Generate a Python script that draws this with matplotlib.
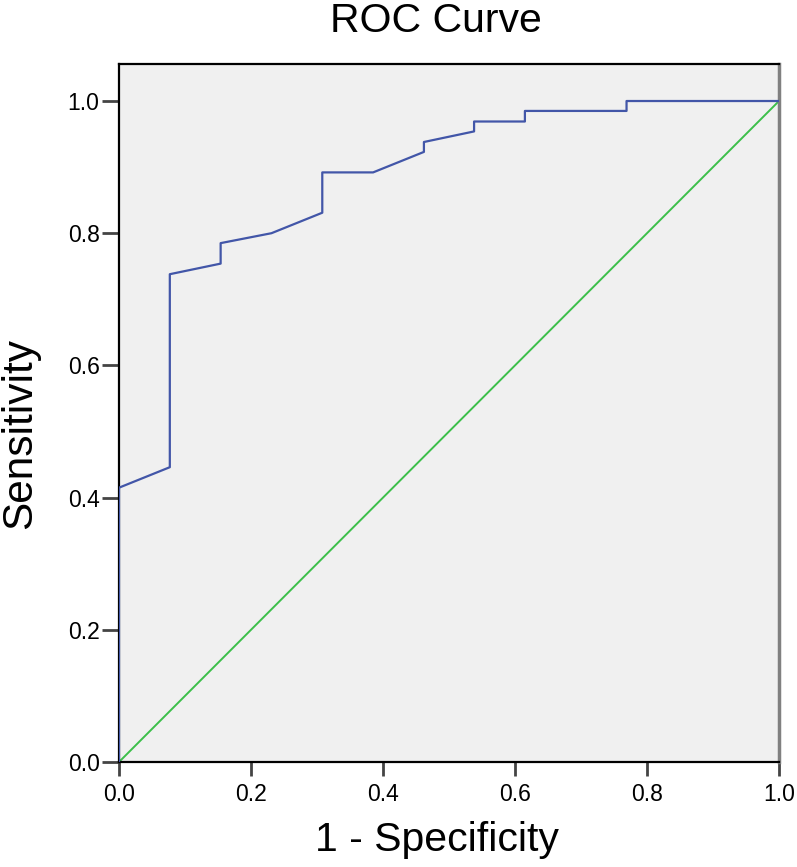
import matplotlib
matplotlib.use("Agg")
import matplotlib.pyplot as plt

# ROC curve values
fpr = [0.0, 0.0, 0.077, 0.077, 0.154, 0.154, 0.231, 0.308, 0.308, 0.385,
       0.462, 0.462, 0.538, 0.538, 0.615, 0.615, 0.769, 0.769, 1.0]
tpr = [0.0, 0.415, 0.446, 0.738, 0.754, 0.785, 0.800, 0.831, 0.892, 0.892,
       0.923, 0.938, 0.954, 0.969, 0.969, 0.985, 0.985, 1.0, 1.0]

# reference (chance) line
ref_x = [0.0, 1.0]
ref_y = [0.0, 1.0]

ticks = [0.0, 0.2, 0.4, 0.6, 0.8, 1.0]
tick_labels = ["0.0", "0.2", "0.4", "0.6", "0.8", "1.0"]

plt.rcParams['font.family'] = ['Liberation Sans', 'DejaVu Sans']

fig = plt.figure(figsize=(7.97, 8.67), dpi=100)
ax = fig.add_axes([119 / 797, 1 - 762 / 867, 660 / 797, 698 / 867])
ax.set_facecolor('#F0F0F0')

ax.plot(ref_x, ref_y, color='#3CBF4A', linewidth=1.4, zorder=2)
ax.plot(fpr, tpr, color='#4256A8', linewidth=1.6, zorder=3)

ax.set_xlim(0, 1.0)
ax.set_ylim(0, 1.056)
ax.set_xticks(ticks)
ax.set_xticklabels(tick_labels)
ax.set_yticks(ticks)
ax.set_yticklabels(tick_labels)

ax.tick_params(axis='x', direction='out', length=10, width=2, colors='#444444',
               labelcolor='black', labelsize=16.5, pad=5)
ax.tick_params(axis='y', direction='out', length=12, width=2, colors='#444444',
               labelcolor='black', labelsize=16.5, pad=2)

for side in ['left', 'bottom', 'top']:
    ax.spines[side].set_color('black')
    ax.spines[side].set_linewidth(1.6)
ax.spines['right'].set_color('#808080')
ax.spines['right'].set_linewidth(2.5)

ax.set_title('ROC Curve', fontsize=29.5, pad=23, x=0.48)
ax.set_xlabel('1 - Specificity', fontsize=29.5)
ax.set_ylabel('Sensitivity', fontsize=30.5)
ax.xaxis.set_label_coords(0.481, -0.085)
ax.yaxis.set_label_coords(-0.12, 0.47)

fig.savefig('out.png', dpi=100)
